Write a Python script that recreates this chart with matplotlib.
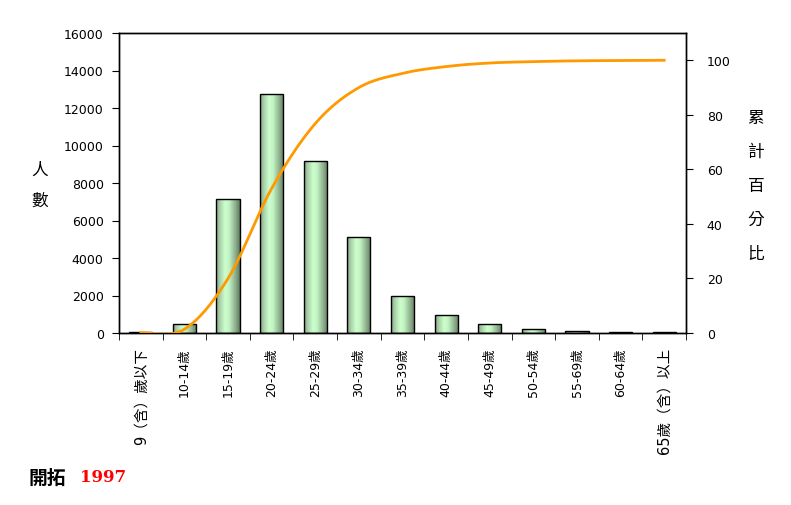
import numpy as np
import matplotlib.pyplot as plt
from matplotlib.colors import LinearSegmentedColormap

plt.rcParams['font.family'] = ['DejaVu Sans', 'Noto Sans CJK TC']

# Daten
groups = ['9（含）歲以下', '10-14歲', '15-19歲', '20-24歲', '25-29歲', '30-34歲',
          '35-39歲', '40-44歲', '45-49歲', '50-54歲', '55-69歲', '60-64歲', '65歲（含）以上']
counts = [40, 500, 7150, 12750, 9180, 5110, 1980, 980, 480, 210, 110, 50, 40]
cum_pct = [0.1, 1.4, 20.0, 53.0, 76.8, 90.0, 95.2, 97.7, 99.0, 99.5, 99.8, 99.9, 100.0]
left_ticks = list(range(0, 16001, 2000))
right_ticks = list(range(0, 101, 20))

fig = plt.figure(figsize=(7.91, 5.06), dpi=100)
ax = fig.add_axes([119/791, 1-334/506, 567/791, 300/506])
ax2 = ax.twinx()

x = np.arange(len(groups))
bw = 0.53

# Balken mit Zylinder-Verlauf
cmap = LinearSegmentedColormap.from_list('cyl', [
    (0.0, '#7f9c7f'), (0.15, '#a8cfa8'), (0.38, '#ccffcc'),
    (0.55, '#c2f2c2'), (0.8, '#90b290'), (1.0, '#5e7c5e')])
grad = np.linspace(0, 1, 256).reshape(1, -1)
bars = ax.bar(x, counts, width=bw, facecolor='none', edgecolor='black', linewidth=1.0, zorder=3)
for b in bars:
    im = ax.imshow(grad, cmap=cmap, aspect='auto', zorder=2,
                   extent=[b.get_x(), b.get_x() + b.get_width(), 0, b.get_height()])
    im.set_clip_path(b)

ax.set_xlim(-0.5, len(groups) - 0.5)
ax.set_ylim(0, 16000)
ax.set_yticks(left_ticks)
ax.set_yticklabels([str(v) for v in left_ticks], fontsize=9)
ax.set_xticks(x)
ax.set_xticklabels(groups, rotation=90, fontsize=9)
# die beiden langen Beschriftungen sind im Original weiter gesperrt
for lbl in (ax.get_xticklabels()[0], ax.get_xticklabels()[-1]):
    lbl.set_fontsize(10.5)
ax.set_xticks(np.arange(-0.5, len(groups), 1), minor=True)
ax.tick_params(axis='x', which='major', length=0, pad=10)
ax.tick_params(axis='x', which='minor', length=5, direction='out')
ax.tick_params(axis='y', length=5, direction='out', pad=6)

# geglättete Summenkurve (Catmull-Rom)
px = np.array(x, dtype=float)
py = np.array(cum_pct, dtype=float)
P = np.column_stack([px, py])
P = np.vstack([P[0], P, P[-1]])
sx, sy = [], []
t = np.linspace(0, 1, 30)
for i in range(1, len(P) - 2):
    p0, p1, p2, p3 = P[i-1], P[i], P[i+1], P[i+2]
    c = 0.5 * (2*p1[:, None] + (-p0 + p2)[:, None]*t + (2*p0 - 5*p1 + 4*p2 - p3)[:, None]*t**2
               + (-p0 + 3*p1 - 3*p2 + p3)[:, None]*t**3)
    sx.extend(c[0]); sy.extend(c[1])
ax2.plot(sx, sy, color='#ff9900', linewidth=2, zorder=5)
ax2.set_ylim(0, 110)
ax2.set_yticks(right_ticks)
ax2.set_yticklabels([str(v) for v in right_ticks], fontsize=9)
ax2.tick_params(axis='y', length=5, direction='out', pad=10)

for a in (ax, ax2):
    for s in a.spines.values():
        s.set_linewidth(1.0)

# Achsentitel
for i, ch in enumerate('人數'):
    fig.text(40/791, 1 - (170 + i*31)/506, ch, fontsize=12, ha='center', va='center',
             family='Noto Sans CJK TC')
for i, ch in enumerate('累計百分比'):
    fig.text(756/791, 1 - (118 + i*34)/506, ch, fontsize=12, ha='center', va='center',
             family='Noto Sans CJK TC')

fig.text(28/791, 1 - 478/506, '開拓', fontsize=13.5, weight='bold', va='center',
         family='Noto Sans CJK TC')
fig.text(80/791, 1 - 478/506, '1997', fontsize=12, weight='bold', color='red', va='center',
         family='DejaVu Serif')

fig.savefig('out.png', dpi=100)
